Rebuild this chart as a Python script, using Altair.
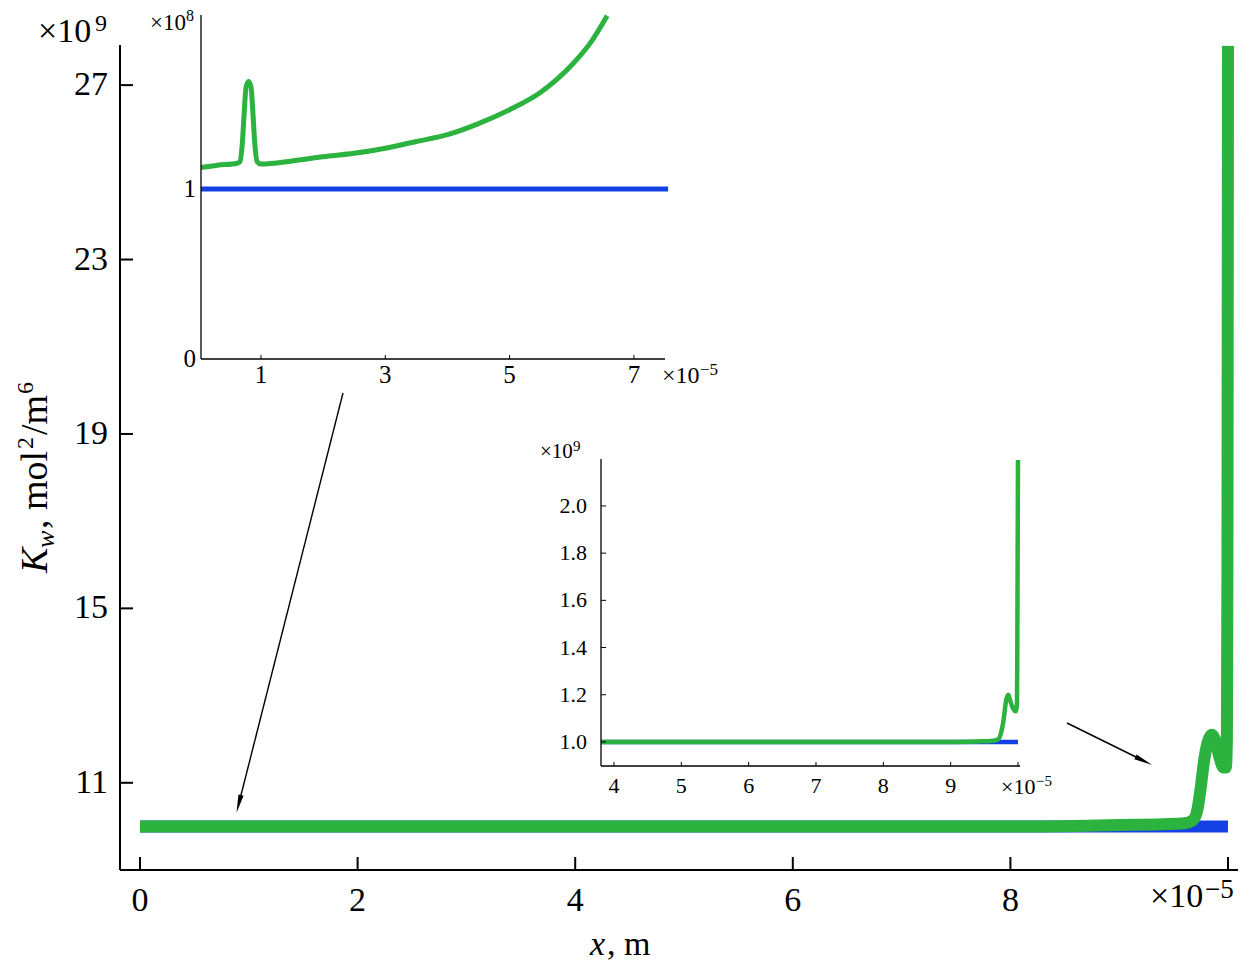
import altair as alt
import pandas as pd

FONT = "Liberation Serif"
GREEN = "#2cb23e"
BLUE = "#1441e6"

# ---------------- data: main panel (x in 1e-5 m, Kw in 1e9) ----------------
main_blue_x = [0.0, 10.0]
main_blue_y = [10.0, 10.0]
main_green_x = [0.0, 8.3, 9.0, 9.4, 9.6, 9.68, 9.72, 9.75, 9.78, 9.81, 9.85, 9.88, 9.92, 9.96, 9.98, 9.99, 9.995, 10.0]
main_green_y = [10.0, 10.0, 10.03, 10.05, 10.07, 10.15, 10.4, 10.9, 11.5, 11.9, 12.1, 12.0, 11.6, 11.35, 11.35, 12.0, 16.0, 27.9]
main_xticks = [0, 2, 4, 6, 8, 10]
main_xlabels = ["0", "2", "4", "6", "8", ""]
main_yticks = [11, 15, 19, 23, 27]
main_ylabels = ["11", "15", "19", "23", "27"]

# ---------------- data: inset 1 (x in 1e-5, Kw in 1e8) ----------------
in1_blue_x = [0.035, 7.55]
in1_blue_y = [1.0, 1.0]
in1_green_x = [0.035, 0.3, 0.62, 0.66, 0.70, 0.73, 0.76, 0.80, 0.84, 0.87, 0.90, 0.94, 1.0, 1.5, 2.0, 2.5,
               3.0, 3.5, 4.0, 4.5, 5.0, 5.5, 6.0, 6.3, 6.57]
in1_green_y = [1.127, 1.14, 1.152, 1.16, 1.27, 1.45, 1.6, 1.633, 1.6, 1.45, 1.27, 1.16, 1.147, 1.165, 1.19, 1.21,
               1.24, 1.28, 1.32, 1.385, 1.467, 1.57, 1.73, 1.86, 2.02]
in1_xticks = [1, 3, 5, 7]
in1_xlabels = ["1", "3", "5", "7"]
in1_yticks = [0, 1]
in1_ylabels = ["0", "1"]

# ---------------- data: inset 2 (x in 1e-5, Kw in 1e9) ----------------
in2_blue_x = [3.807, 10.0]
in2_blue_y = [1.0, 1.0]
in2_green_x = [3.807, 9.0, 9.4, 9.6, 9.7, 9.75, 9.79, 9.82, 9.855, 9.89, 9.93, 9.965, 9.985, 9.99, 10.0]
in2_green_y = [1.0, 1.0, 1.002, 1.004, 1.01, 1.04, 1.1, 1.17, 1.2, 1.17, 1.14, 1.13, 1.16, 1.4, 2.195]
in2_xticks = [4, 5, 6, 7, 8, 9, 10]
in2_xlabels = ["4", "5", "6", "7", "8", "9", ""]
in2_yticks = [1.0, 1.2, 1.4, 1.6, 1.8, 2.0]
in2_ylabels = ["1.0", "1.2", "1.4", "1.6", "1.8", "2.0"]

# ---------------- scales ----------------
W, H = 1118, 825
main_xs = alt.Scale(domain=[-0.184, 10.092], nice=False, zero=False)
main_ys = alt.Scale(domain=[9.0, 27.92], nice=False, zero=False)
in1_xs = alt.Scale(domain=[0.035, 7.5], range=[81, 545], nice=False, zero=False)
in1_ys = alt.Scale(domain=[0.0, 2.024], range=[314, -30], nice=False, zero=False)
in2_xs = alt.Scale(domain=[3.807, 10.03], range=[481, 900], nice=False, zero=False)
in2_ys = alt.Scale(domain=[0.898, 2.199], range=[721, 414], nice=False, zero=False)

ONE = pd.DataFrame({"a": [0]})


def line(xs, ys, xsc, ysc, color, width):
    df = pd.DataFrame({"x": xs, "y": ys})
    return alt.Chart(df).mark_line(color=color, strokeWidth=width, strokeCap="butt",
                                   interpolate="monotone").encode(
        x=alt.X("x:Q", scale=xsc, axis=None),
        y=alt.Y("y:Q", scale=ysc, axis=None),
    )


def frame(x0, y0, x1, y1, w):
    # axis domain line
    return alt.Chart(ONE).mark_rule(color="black", strokeWidth=w).encode(
        x=alt.value(x0), y=alt.value(y0), x2=alt.value(x1), y2=alt.value(y1))


def xticks(vals, xsc, y0, y1, w):
    return alt.Chart(pd.DataFrame({"x": vals})).mark_rule(color="black", strokeWidth=w).encode(
        x=alt.X("x:Q", scale=xsc, axis=None), y=alt.value(y0), y2=alt.value(y1))


def yticks(vals, ysc, x0, x1, w):
    return alt.Chart(pd.DataFrame({"y": vals})).mark_rule(color="black", strokeWidth=w).encode(
        y=alt.Y("y:Q", scale=ysc, axis=None), x=alt.value(x0), x2=alt.value(x1))


def xlabels(vals, labs, xsc, y, size):
    return alt.Chart(pd.DataFrame({"x": vals, "t": labs})).mark_text(
        font=FONT, fontSize=size, align="center", baseline="alphabetic", color="black").encode(
        x=alt.X("x:Q", scale=xsc, axis=None), y=alt.value(y), text="t:N")


def ylabels(vals, labs, ysc, x, size):
    return alt.Chart(pd.DataFrame({"y": vals, "t": labs})).mark_text(
        font=FONT, fontSize=size, align="right", baseline="middle", color="black").encode(
        y=alt.Y("y:Q", scale=ysc, axis=None), x=alt.value(x), text="t:N")


def txt(s, x, y, size, style="normal", angle=0):
    return alt.Chart(pd.DataFrame({"t": [s]})).mark_text(
        font=FONT, fontSize=size, fontStyle=style, align="left", baseline="alphabetic",
        angle=angle, color="black").encode(text="t:N", x=alt.value(x), y=alt.value(y))


def arrow(x0, y0, x1, y1, ang):
    shaft = alt.Chart(ONE).mark_rule(color="black", strokeWidth=1.4).encode(
        x=alt.value(x0), y=alt.value(y0), x2=alt.value(x1), y2=alt.value(y1))
    head = alt.Chart(ONE).mark_point(shape="wedge", filled=True, size=450, angle=ang,
                                     color="black", opacity=1).encode(
        x=alt.value(x1), y=alt.value(y1))
    return [shaft, head]


# ---------------- main panel ----------------
main_layers = [
    line(main_blue_x, main_blue_y, main_xs, main_ys, BLUE, 12),
    line(main_green_x, main_green_y, main_xs, main_ys, GREEN, 12),
    frame(0, 0, 0, H, 2),
    frame(0, H, W, H, 2),
    xticks(main_xticks, main_xs, H, H - 13, 2),
    yticks(main_yticks, main_ys, 0, 13, 2),
    xlabels(main_xticks, main_xlabels, main_xs, 866, 34),
    ylabels(main_yticks, main_ylabels, main_ys, -12, 34),
    # multipliers
    txt("×10", -82, -3, 34), txt("9", -25, -14, 24),
    txt("×10", 1030, 862, 34), txt("−5", 1085, 853, 27),
    # axis titles
    txt("x", 470, 910, 34, "italic"), txt(", m", 487, 910, 34),
    txt("K", -73, 528, 38, "italic", 270), txt("w", -66, 503, 26, "italic", 270),
    txt(", mol", -73, 484, 38, angle=270), txt("2", -87, 404, 24, angle=270),
    txt("/m", -73, 390, 38, angle=270), txt("6", -87, 349, 24, angle=270),
]
main_layers += arrow(223, 348, 119.5, 756, 194.2)
main_layers += arrow(947, 678, 1021, 714.5, 116.3)
main = alt.layer(*main_layers)

# ---------------- inset 1 ----------------
inset1 = alt.layer(
    line(in1_blue_x, in1_blue_y, in1_xs, in1_ys, BLUE, 5),
    line(in1_green_x, in1_green_y, in1_xs, in1_ys, GREEN, 5),
    frame(81, -30, 81, 314, 1.3),
    frame(81, 314, 545, 314, 1.3),
    xticks(in1_xticks, in1_xs, 314, 310, 1),
    xlabels(in1_xticks, in1_xlabels, in1_xs, 338, 25),
    ylabels(in1_yticks, in1_ylabels, in1_ys, 76, 25),
    txt("×10", 30, -15, 23), txt("8", 66, -24, 16),
    txt("×10", 542, 338, 24), txt("−5", 580, 330, 17),
)

# ---------------- inset 2 ----------------
inset2 = alt.layer(
    line(in2_blue_x, in2_blue_y, in2_xs, in2_ys, BLUE, 4.5),
    line(in2_green_x, in2_green_y, in2_xs, in2_ys, GREEN, 4.5),
    frame(481, 414, 481, 721, 1.3),
    frame(481, 721, 900, 721, 1.3),
    xticks(in2_xticks, in2_xs, 721, 717, 1),
    yticks(in2_yticks, in2_ys, 481, 486, 1),
    xlabels(in2_xticks, in2_xlabels, in2_xs, 748, 22),
    ylabels(in2_yticks, in2_ylabels, in2_ys, 467, 22),
    txt("×10", 420, 413, 21), txt("9", 453, 406, 15),
    txt("×10", 881, 749, 22), txt("−5", 916, 741, 15),
)

chart = alt.layer(main, inset1, inset2).resolve_scale(
    x="independent", y="independent"
).properties(
    width=W, height=H,
    autosize=alt.AutoSizeParams(type="none"),
    padding={"left": 112, "top": 37, "right": 10, "bottom": 93},
    background="white",
).configure_view(stroke=None)

chart.save("out.html", embed_options={"renderer": "svg", "actions": False})
